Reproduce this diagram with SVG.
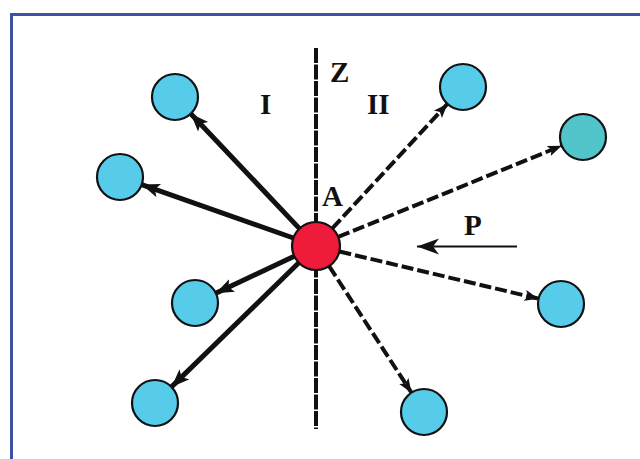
<svg xmlns="http://www.w3.org/2000/svg" width="640" height="459" viewBox="0 0 640 459">
<style>
.node{fill:#56CBEA;stroke:#111;stroke-width:2.2}
.teal{fill:#52C5CA}
.red{fill:#EE1C3A}
.lbl{font-family:"Liberation Serif","Times New Roman",serif;font-weight:bold;fill:#111;font-size:29px}
.solid{stroke:#111;stroke-width:5;fill:none;marker-end:url(#ah)}
.dash{stroke:#111;stroke-width:4;fill:none;stroke-dasharray:12 4;marker-end:url(#ahs)}
</style>
<defs>
<marker id="ah" markerUnits="userSpaceOnUse" markerWidth="20" markerHeight="16" refX="18" refY="7" orient="auto">
<path d="M0,0 L18,7 L0,14 L4,7 z" fill="#111"/>
</marker>
<marker id="ahs" markerUnits="userSpaceOnUse" markerWidth="16" markerHeight="12" refX="14" refY="5.5" orient="auto">
<path d="M0,0 L14,5.5 L0,11 L3,5.5 z" fill="#111"/>
</marker>
<marker id="ahp" markerUnits="userSpaceOnUse" markerWidth="24" markerHeight="18" refX="22" refY="8" orient="auto">
<path d="M0,0 L22,8 L0,16 L6,8 z" fill="#111"/>
</marker>
</defs>
<rect width="640" height="459" fill="#fff"/>
<path d="M11.5,459 V14.5 H640" fill="none" stroke="#3F51A5" stroke-width="3"/>
<g id="axis">
<line x1="316" y1="48" x2="316" y2="429" stroke="#111" stroke-width="4" stroke-dasharray="15 1.5"/>
</g>
<g id="connectors">
<line class="solid" x1="299.5" y1="228.6" x2="190.8" y2="113.7"/>
<line class="solid" x1="293.4" y1="238" x2="141.7" y2="184.6"/>
<line class="solid" x1="294.3" y1="256.2" x2="215.8" y2="293.2"/>
<line class="solid" x1="298.8" y1="262.8" x2="171.5" y2="386.9"/>
<line class="dash" x1="332.3" y1="228.4" x2="447.4" y2="103.9"/>
<line class="dash" x1="338.2" y1="236.9" x2="561.7" y2="145.7"/>
<line class="dash" x1="339.4" y1="251.5" x2="538.6" y2="298.7"/>
<line class="dash" x1="329.1" y1="266.1" x2="411.5" y2="392.7"/>
<line x1="517" y1="246.5" x2="417" y2="246.5" stroke="#111" stroke-width="2.2" marker-end="url(#ahp)"/>
</g>
<g id="nodeA"><circle class="node red" cx="316" cy="246" r="24"/></g>
<g id="n1"><circle class="node" cx="175" cy="97" r="23"/></g>
<g id="n2"><circle class="node" cx="120" cy="177" r="23"/></g>
<g id="n3"><circle class="node" cx="195" cy="303" r="23"/></g>
<g id="n4"><circle class="node" cx="155" cy="403" r="23"/></g>
<g id="n5"><circle class="node" cx="463" cy="87" r="23"/></g>
<g id="n6"><circle class="node teal" cx="583" cy="137" r="23"/></g>
<g id="n7"><circle class="node" cx="561" cy="304" r="23"/></g>
<g id="n8"><circle class="node" cx="424" cy="412" r="23"/></g>
<g id="labels">
<text class="lbl" x="330" y="82">Z</text>
<text class="lbl" x="260" y="114">I</text>
<text class="lbl" x="367" y="114">II</text>
<text class="lbl" x="322" y="206">A</text>
<text class="lbl" x="464" y="235">P</text>
</g>
</svg>
